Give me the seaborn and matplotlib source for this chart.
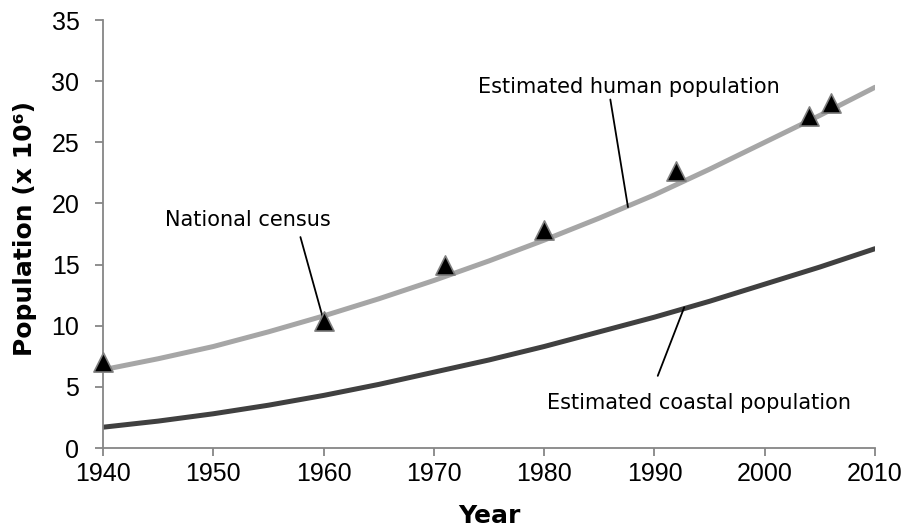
import numpy as np
import pandas as pd
import seaborn as sns
import matplotlib.pyplot as plt

# values (population, millions)
years = [1940, 1945, 1950, 1955, 1960, 1965, 1970, 1975, 1980, 1985, 1990, 1995, 2000, 2005, 2010]
human_est = [6.4, 7.3, 8.3, 9.5, 10.8, 12.2, 13.7, 15.3, 17.0, 18.8, 20.7, 22.8, 25.0, 27.2, 29.5]
coastal_est = [1.7, 2.2, 2.8, 3.5, 4.3, 5.2, 6.2, 7.2, 8.3, 9.5, 10.7, 12.0, 13.4, 14.8, 16.3]

census_years = [1940, 1960, 1971, 1980, 1992, 2004, 2006]
census_pop = [7.0, 10.4, 15.0, 17.8, 22.65, 27.15, 28.2]

df = pd.DataFrame({"year": years, "human": human_est, "coastal": coastal_est})
census = pd.DataFrame({"year": census_years, "pop": census_pop})

sns.set_style("white")
plt.rcParams['font.family'] = ['Liberation Sans', 'DejaVu Sans']

fig = plt.figure(figsize=(9.06, 5.31), dpi=100)
ax = fig.add_axes([0.1137, 0.1563, 0.8521, 0.806])

sns.lineplot(data=df, x="year", y="human", ax=ax, color="#a6a6a6", linewidth=3.6)
sns.lineplot(data=df, x="year", y="coastal", ax=ax, color="#404040", linewidth=3.6)
sns.scatterplot(data=census, x="year", y="pop", ax=ax, marker="^", s=190,
                color="black", edgecolor="#7f7f7f", linewidth=1.2, zorder=5, clip_on=False)

ax.set_xlim(1940, 2010)
ax.set_ylim(0, 35)
ax.set_xticks(range(1940, 2011, 10))
ax.set_yticks(range(0, 36, 5))

for s in ["top", "right"]:
    ax.spines[s].set_visible(False)
for s in ["left", "bottom"]:
    ax.spines[s].set_color("#868686")
    ax.spines[s].set_linewidth(1.3)
ax.tick_params(axis="both", direction="out", length=5.5, width=1.3, color="#868686",
               labelsize=18, labelcolor="black", bottom=True, left=True)
ax.tick_params(axis="x", pad=4.5)
ax.tick_params(axis="y", pad=11.5)

lab = dict(fontsize=18, fontweight="bold", family="DejaVu Sans", color="black")
ax.set_xlabel("Year", **lab)
ax.set_ylabel("Population (x 10⁶)", **lab)
ax.xaxis.set_label_coords(0.5, -0.132)
ax.yaxis.set_label_coords(-0.085, 0.514)

ann = dict(fontsize=15, family="DejaVu Sans", color="black", va="baseline", ha="left")
line = dict(arrowstyle="-", color="black", lw=1.3, shrinkA=0, shrinkB=0)

ax.text(1945.6, 18.15, "National census", **ann)
ax.annotate("", xy=(1959.95, 10.6), xytext=(1957.9, 17.25), arrowprops=line)

ax.text(1974.0, 29.03, "Estimated human population", **ann)
ax.annotate("", xy=(1987.6, 19.7), xytext=(1986.0, 28.5), arrowprops=line)

ax.text(1980.3, 3.2, "Estimated coastal population", **ann)
ax.annotate("", xy=(1992.7, 11.5), xytext=(1990.3, 5.9), arrowprops=line)

fig.savefig("out.png", dpi=100)
